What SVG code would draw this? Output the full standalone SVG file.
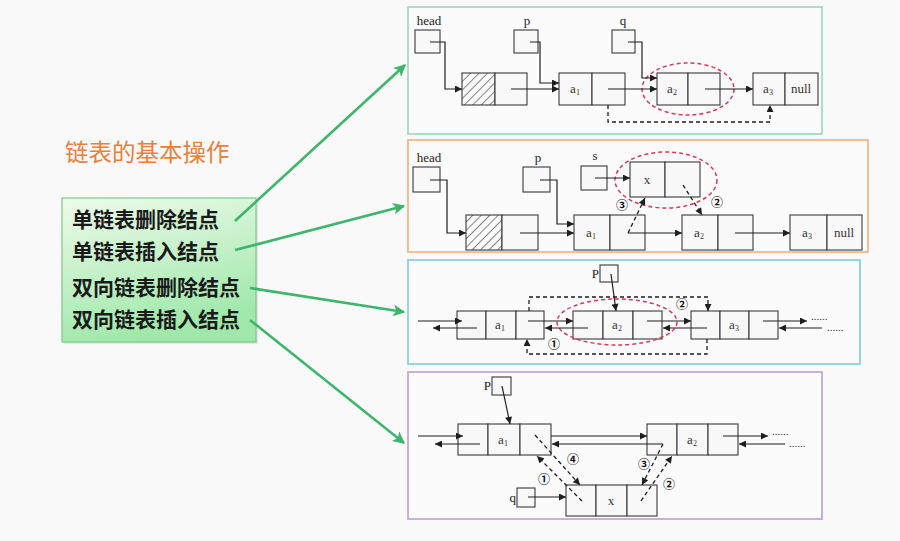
<svg xmlns="http://www.w3.org/2000/svg" width="900" height="541" viewBox="0 0 900 541">
<defs>
<marker id="ah" viewBox="0 0 10 10" refX="10" refY="5" markerWidth="8" markerHeight="7" markerUnits="userSpaceOnUse" orient="auto"><path d="M0,0 L10,5 L0,10 z" fill="#1e1e1e"/></marker>
<marker id="gh" viewBox="0 0 10 10" refX="9" refY="5" markerWidth="15" markerHeight="12" markerUnits="userSpaceOnUse" orient="auto"><path d="M0,0 L10,5 L0,10 L2.5,5 z" fill="#3db56b"/></marker>
<pattern id="hatch" width="6" height="6" patternUnits="userSpaceOnUse" patternTransform="rotate(45)"><line x1="0" y1="0" x2="0" y2="6" stroke="#333" stroke-width="1.2"/></pattern>
<linearGradient id="gbox" x1="0" y1="0" x2="0.3" y2="1"><stop offset="0" stop-color="#eefbea"/><stop offset="1" stop-color="#9fe8aa"/></linearGradient>
</defs>
<style>
.panel{fill:#fbfbfb;stroke-width:1.8}
.cell{fill:#f8f8f8;stroke:#3a3a3a;stroke-width:1.1}
.ptr{fill:#f8f8f8;stroke:#3a3a3a;stroke-width:1.1}
.ln{fill:none;stroke:#1e1e1e;stroke-width:1.2}
.dl{fill:none;stroke:#1e1e1e;stroke-width:1.3;stroke-dasharray:4,3}
.ell{fill:none;stroke:#d83a5a;stroke-width:1.5;stroke-dasharray:4,3}
.lab{font-family:"Liberation Serif",serif;font-size:13px;fill:#222}
.nt{font-family:"Liberation Serif",serif;font-size:13px;fill:#333;text-anchor:middle}
.sb{font-size:8px}
.cn{font-family:"Noto Sans CJK SC","DejaVu Sans",sans-serif;font-size:12px;font-weight:bold;fill:#111;text-anchor:middle}
.dots{font-family:"Liberation Serif",serif;font-size:11px;fill:#333}
.g{fill:none;stroke:#3db56b;stroke-width:2.6}
.item{font-family:"Noto Sans CJK SC",sans-serif;font-size:21px;font-weight:bold;fill:#1a1a1a}
</style>
<rect x="0" y="0" width="900" height="541" fill="#f9f9f9"/>

<!-- left side -->
<g id="title"><text x="65" y="161" font-family="'Noto Sans CJK SC',sans-serif" font-size="23.5" fill="#e8803a">链表的基本操作</text></g>
<g id="menu">
<rect x="64" y="200" width="194" height="144" fill="#d8d8d8" opacity="0.6"/>
<rect x="62" y="198" width="194" height="144" fill="url(#gbox)" stroke="#7cc88a" stroke-width="1.2"/>
<text class="item" x="72" y="227">单链表删除结点</text>
<text class="item" x="72" y="259">单链表插入结点</text>
<text class="item" x="72" y="295">双向链表删除结点</text>
<text class="item" x="72" y="327">双向链表插入结点</text>
</g>
<g id="green-connectors">
<path class="g" d="M235,221 L405,65" marker-end="url(#gh)"/>
<path class="g" d="M235,250 L404,206" marker-end="url(#gh)"/>
<path class="g" d="M250,288 L404,312" marker-end="url(#gh)"/>
<path class="g" d="M250,320 L404,443" marker-end="url(#gh)"/>
</g>

<!-- Panel 1: single list delete -->
<g id="panel1">
<rect class="panel" x="408" y="7" width="414" height="127" stroke="#a8d8c0"/>
<g id="p1-head"><text class="lab" x="429" y="25" text-anchor="middle">head</text><rect class="ptr" x="415" y="30" width="25" height="23"/></g>
<g id="p1-hnode"><rect x="462" y="73" width="33" height="32" fill="url(#hatch)" stroke="#3a3a3a" stroke-width="1.1"/><rect class="cell" x="495" y="73" width="32" height="32"/></g>
<g id="p1-p"><text class="lab" x="527" y="25" text-anchor="middle">p</text><rect class="ptr" x="514" y="30" width="24" height="23"/></g>
<g id="p1-a1"><rect class="cell" x="559" y="73" width="33" height="32"/><rect class="cell" x="592" y="73" width="33" height="32"/><text class="nt" x="575" y="93">a<tspan class="sb" dy="2">1</tspan></text></g>
<g id="p1-q"><text class="lab" x="623" y="25" text-anchor="middle">q</text><rect class="ptr" x="612" y="30" width="23" height="23"/></g>
<g id="p1-a2"><rect class="cell" x="657" y="73" width="31" height="32"/><rect class="cell" x="688" y="73" width="32" height="32"/><text class="nt" x="672" y="93">a<tspan class="sb" dy="2">2</tspan></text></g>
<g id="p1-a3"><rect class="cell" x="753" y="73" width="32" height="32"/><rect class="cell" x="785" y="73" width="33" height="32"/><text class="nt" x="768" y="93">a<tspan class="sb" dy="2">3</tspan></text><text class="nt" x="801" y="93">null</text></g>
<ellipse class="ell" cx="688" cy="89" rx="46" ry="26"/>
<g id="p1-connectors">
<path class="ln" d="M430,42 H445 V89 H462" marker-end="url(#ah)"/>
<path class="ln" d="M511,89 H559" marker-end="url(#ah)"/>
<path class="ln" d="M530,42 H540 V83 H559" marker-end="url(#ah)"/>
<path class="ln" d="M608,89 H657" marker-end="url(#ah)"/>
<path class="ln" d="M628,42 H642 V78 H657" marker-end="url(#ah)"/>
<path class="ln" d="M705,89 H753" marker-end="url(#ah)"/>
<path class="dl" d="M608,105 V122 H770 V105" marker-end="url(#ah)"/>
</g>
</g>

<!-- Panel 2: single list insert -->
<g id="panel2">
<rect class="panel" x="408" y="140" width="460" height="112" stroke="#f0b888"/>
<g id="p2-head"><text class="lab" x="429" y="162" text-anchor="middle">head</text><rect class="ptr" x="413" y="167" width="27" height="25"/></g>
<g id="p2-hnode"><rect x="466" y="215" width="36" height="35" fill="url(#hatch)" stroke="#3a3a3a" stroke-width="1.1"/><rect class="cell" x="502" y="215" width="36" height="35"/></g>
<g id="p2-p"><text class="lab" x="538" y="162" text-anchor="middle">p</text><rect class="ptr" x="523" y="167" width="27" height="25"/></g>
<g id="p2-s"><text class="lab" x="595" y="160" text-anchor="middle">s</text><rect class="ptr" x="581" y="166" width="26" height="24"/></g>
<g id="p2-x"><rect class="cell" x="630" y="162" width="35" height="35"/><rect class="cell" x="665" y="162" width="35" height="35"/><text class="nt" x="647" y="184">x</text></g>
<g id="p2-a1"><rect class="cell" x="574" y="215" width="36" height="35"/><rect class="cell" x="610" y="215" width="35" height="35"/><text class="nt" x="591" y="237">a<tspan class="sb" dy="2">1</tspan></text></g>
<g id="p2-a2"><rect class="cell" x="682" y="215" width="36" height="35"/><rect class="cell" x="718" y="215" width="35" height="35"/><text class="nt" x="699" y="237">a<tspan class="sb" dy="2">2</tspan></text></g>
<g id="p2-a3"><rect class="cell" x="790" y="215" width="37" height="35"/><rect class="cell" x="827" y="215" width="35" height="35"/><text class="nt" x="807" y="237">a<tspan class="sb" dy="2">3</tspan></text><text class="nt" x="844" y="237">null</text></g>
<ellipse class="ell" cx="666" cy="180" rx="51" ry="28"/>
<g id="p2-connectors">
<path class="ln" d="M430,180 H447 V233 H466" marker-end="url(#ah)"/>
<path class="ln" d="M520,233 H574" marker-end="url(#ah)"/>
<path class="ln" d="M540,180 H557 V224 H574" marker-end="url(#ah)"/>
<path class="ln" d="M595,178 H630" marker-end="url(#ah)"/>
<path class="ln" d="M628,233 H682" marker-end="url(#ah)"/>
<path class="dl" d="M628,233 L645,198" marker-end="url(#ah)"/>
<path class="dl" d="M683,185 L702,215" marker-end="url(#ah)"/>
<path class="ln" d="M735,233 H790" marker-end="url(#ah)"/>
<text class="cn" x="622" y="210">③</text>
<text class="cn" x="717" y="207">②</text>
</g>
</g>

<!-- Panel 3: double list delete -->
<g id="panel3">
<rect class="panel" x="408" y="260" width="452" height="104" stroke="#90d0d8"/>
<g id="p3-a1"><rect class="cell" x="457" y="311" width="29" height="28"/><rect class="cell" x="486" y="311" width="30" height="28"/><rect class="cell" x="516" y="311" width="28" height="28"/><text class="nt" x="500" y="329">a<tspan class="sb" dy="2">1</tspan></text></g>
<g id="p3-a2"><rect class="cell" x="573" y="311" width="30" height="28"/><rect class="cell" x="603" y="311" width="30" height="28"/><rect class="cell" x="633" y="311" width="29" height="28"/><text class="nt" x="617" y="329">a<tspan class="sb" dy="2">2</tspan></text></g>
<g id="p3-a3"><rect class="cell" x="691" y="311" width="29" height="28"/><rect class="cell" x="720" y="311" width="29" height="28"/><rect class="cell" x="749" y="311" width="29" height="28"/><text class="nt" x="734" y="329">a<tspan class="sb" dy="2">3</tspan></text></g>
<g id="p3-p"><text class="lab" x="599" y="278" text-anchor="end">P</text><rect class="ptr" x="600" y="265" width="18" height="17"/></g>
<ellipse class="ell" cx="617" cy="322" rx="60" ry="23"/>
<g id="p3-connectors">
<path class="ln" d="M418,321 H462" marker-end="url(#ah)"/>
<path class="ln" d="M477,328 H433" marker-end="url(#ah)"/>
<path class="ln" d="M528,321 H573" marker-end="url(#ah)"/>
<path class="ln" d="M588,328 H545" marker-end="url(#ah)"/>
<path class="ln" d="M647,321 H691" marker-end="url(#ah)"/>
<path class="ln" d="M707,328 H663" marker-end="url(#ah)"/>
<path class="ln" d="M763,321 H807" marker-end="url(#ah)"/>
<path class="ln" d="M822,328 H779" marker-end="url(#ah)"/>
<path class="ln" d="M611,274 L616,311" marker-end="url(#ah)"/>
<path class="dl" d="M529,311 V297 H708 V311" marker-end="url(#ah)"/>
<path class="dl" d="M707,339 V354 H527 V339" marker-end="url(#ah)"/>
<text class="dots" x="811" y="320">......</text>
<text class="dots" x="827" y="331">......</text>
<text class="cn" x="682" y="309">②</text>
<text class="cn" x="554" y="349">①</text>
</g>
</g>

<!-- Panel 4: double list insert -->
<g id="panel4">
<rect class="panel" x="408" y="372" width="414" height="147" stroke="#c4a8d4"/>
<g id="p4-p"><text class="lab" x="491" y="390" text-anchor="end">P</text><rect class="ptr" x="492" y="377" width="19" height="18"/></g>
<g id="p4-a1"><rect class="cell" x="458" y="424" width="30" height="31"/><rect class="cell" x="488" y="424" width="32" height="31"/><rect class="cell" x="520" y="424" width="31" height="31"/><text class="nt" x="503" y="444">a<tspan class="sb" dy="2">1</tspan></text></g>
<g id="p4-a2"><rect class="cell" x="647" y="424" width="30" height="31"/><rect class="cell" x="677" y="424" width="31" height="31"/><rect class="cell" x="708" y="424" width="30" height="31"/><text class="nt" x="692" y="444">a<tspan class="sb" dy="2">2</tspan></text></g>
<g id="p4-x"><rect class="cell" x="566" y="485" width="30" height="31"/><rect class="cell" x="596" y="485" width="31" height="31"/><rect class="cell" x="627" y="485" width="30" height="31"/><text class="nt" x="611" y="505">x</text></g>
<g id="p4-q"><text class="lab" x="516" y="502" text-anchor="end">q</text><rect class="ptr" x="517" y="488" width="18" height="19"/></g>
<g id="p4-connectors">
<path class="ln" d="M502,386 L510,424" marker-end="url(#ah)"/>
<path class="ln" d="M418,436 H463" marker-end="url(#ah)"/>
<path class="ln" d="M480,444 H435" marker-end="url(#ah)"/>
<path class="ln" d="M551,436 H647" marker-end="url(#ah)"/>
<path class="ln" d="M663,444 H552" marker-end="url(#ah)"/>
<path class="ln" d="M723,436 H768" marker-end="url(#ah)"/>
<path class="ln" d="M785,444 H739" marker-end="url(#ah)"/>
<path class="ln" d="M528,497 H566" marker-end="url(#ah)"/>
<path class="dl" d="M535,435 L580,485" marker-end="url(#ah)"/>
<path class="dl" d="M582,501 L537,456" marker-end="url(#ah)"/>
<path class="dl" d="M663,444 L642,485" marker-end="url(#ah)"/>
<path class="dl" d="M641,501 L672,456" marker-end="url(#ah)"/>
<text class="dots" x="772" y="435">......</text>
<text class="dots" x="789" y="447">......</text>
<text class="cn" x="573" y="464">④</text>
<text class="cn" x="544" y="484">①</text>
<text class="cn" x="644" y="469">③</text>
<text class="cn" x="669" y="489">②</text>
</g>
</g>
</svg>
